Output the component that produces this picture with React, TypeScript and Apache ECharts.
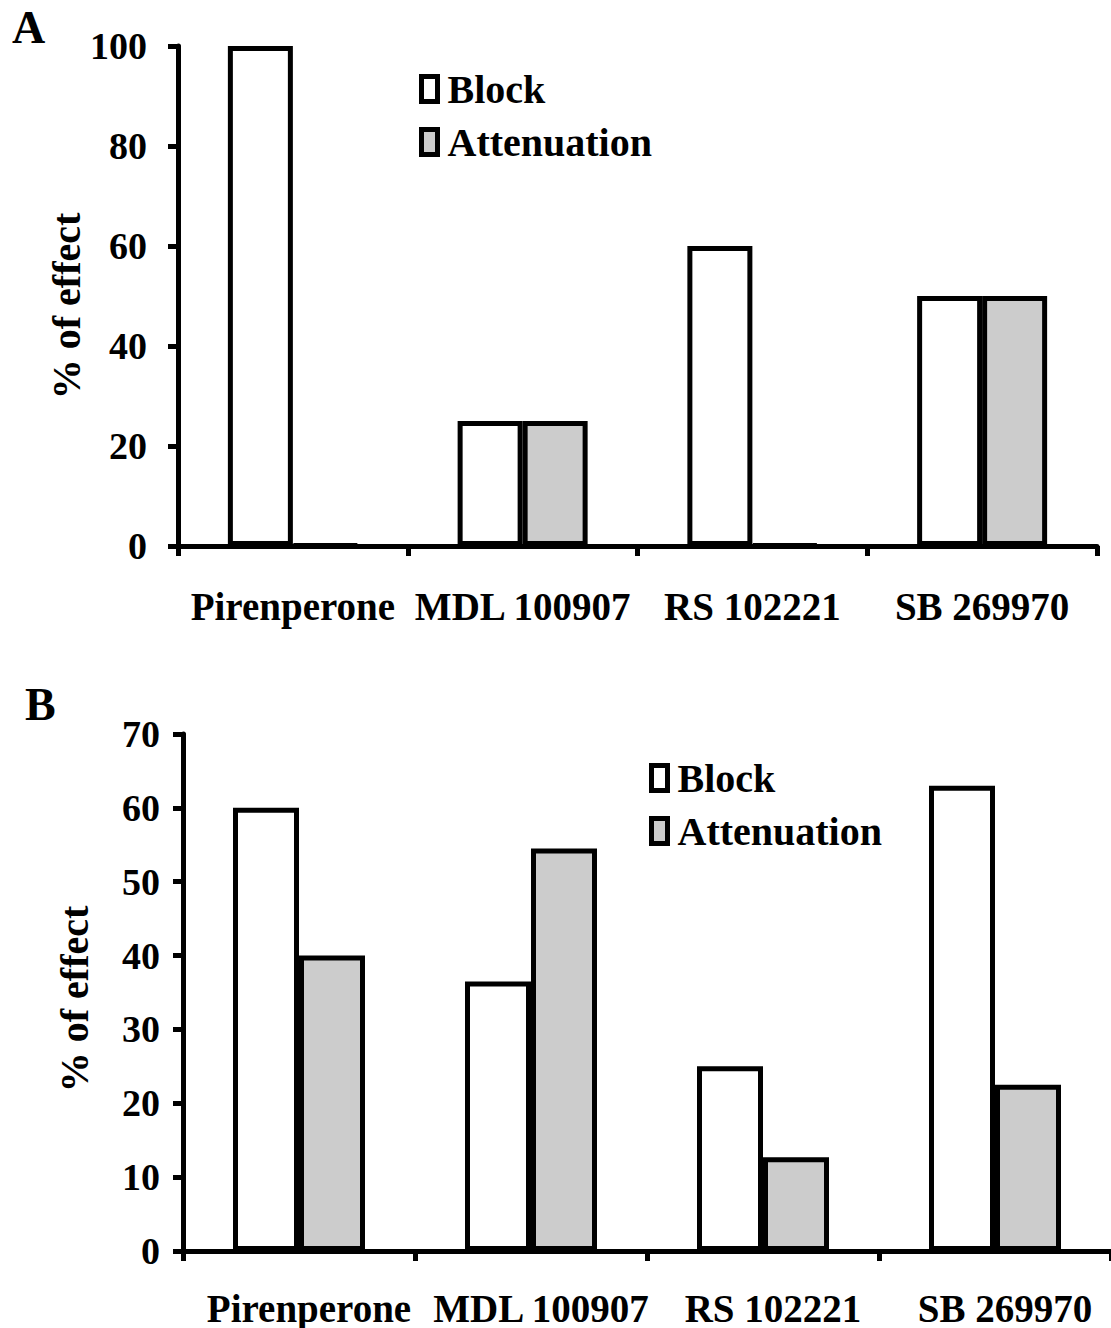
import React, { useEffect, useRef } from "react";
import * as echarts from "echarts";

const categories = ["Pirenperone", "MDL 100907", "RS 102221", "SB 269970"];
const blockA = [100, 25, 60, 50];
const attenuationA = [0, 25, 0, 50];
const blockB = [60, 36.5, 25, 63];
const attenuationB = [40, 54.5, 12.7, 22.5];
const yTicksA = { min: 0, max: 100, interval: 20 };
const yTicksB = { min: 0, max: 70, interval: 10 };

const FONT = "'Liberation Serif', 'Times New Roman', serif";
const BLACK = "#000000";
const GREY = "#cccccc";

export default function App() {
  const ref = useRef<HTMLDivElement>(null);
  useEffect(() => {
    if (!ref.current) return;
    const chart = echarts.init(ref.current, null, { renderer: "svg" });
    const axisLine = { show: true, lineStyle: { color: BLACK, width: 5 } };
    const axisTick = { show: true, length: 10, lineStyle: { color: BLACK, width: 5 } };
    const labelBase = { color: BLACK, fontFamily: FONT, fontWeight: "bold" as const, fontSize: 39, lineHeight: 40 };
    const barStyle = (fill: string) => ({ color: fill, borderColor: BLACK, borderWidth: 5 });
    const legendBase = {
      orient: "vertical" as const,
      padding: 0,
      itemWidth: 16,
      itemHeight: 25,
      itemGap: 9,
      icon: "rect",
      itemStyle: { borderColor: BLACK, borderWidth: 5 },
      textStyle: { color: BLACK, fontFamily: FONT, fontWeight: "bold" as const, fontSize: 40, lineHeight: 44, padding: [0, 0, 0, 5] },
      data: ["Block", "Attenuation"],
      selectedMode: false,
    };
    chart.setOption({
      animation: false,
      backgroundColor: "#ffffff",
      grid: [
        { left: 178, top: 46, width: 919, height: 500 },
        { left: 183, top: 734, width: 928, height: 517 },
      ],
      legend: [
        { ...legendBase, left: 419, top: 67 },
        { ...legendBase, left: 649, top: 756 },
      ],
      xAxis: [
        {
          type: "category", gridIndex: 0, data: categories,
          axisLine, axisTick,
          axisLabel: { ...labelBase, margin: 40, interval: 0 },
        },
        {
          type: "category", gridIndex: 1, data: categories,
          axisLine, axisTick,
          axisLabel: { ...labelBase, margin: 37, interval: 0, padding: [0, 0, 0, 20] },
        },
      ],
      yAxis: [
        {
          type: "value", gridIndex: 0, ...yTicksA,
          axisLine, axisTick, splitLine: { show: false },
          axisLabel: { ...labelBase, fontSize: 38, margin: 31 },
        },
        {
          type: "value", gridIndex: 1, ...yTicksB,
          axisLine, axisTick, splitLine: { show: false },
          axisLabel: { ...labelBase, fontSize: 38, margin: 23 },
        },
      ],
      series: [
        { name: "Block", type: "bar", xAxisIndex: 0, yAxisIndex: 0, data: blockA, barWidth: 65, barGap: "0%", itemStyle: barStyle("#ffffff") },
        { name: "Attenuation", type: "bar", xAxisIndex: 0, yAxisIndex: 0, data: attenuationA, barWidth: 65, barGap: "0%", barMinHeight: 1, itemStyle: barStyle(GREY) },
        { name: "Block", type: "bar", xAxisIndex: 1, yAxisIndex: 1, data: blockB, barWidth: 66, barGap: "0%", itemStyle: barStyle("#ffffff") },
        { name: "Attenuation", type: "bar", xAxisIndex: 1, yAxisIndex: 1, data: attenuationB, barWidth: 66, barGap: "0%", itemStyle: barStyle(GREY) },
      ],
      graphic: [
        { type: "text", left: 12, top: 4, style: { text: "A", fill: BLACK, font: `bold 46px ${FONT}` } },
        { type: "text", left: 25, top: 681, style: { text: "B", fill: BLACK, font: `bold 46px ${FONT}` } },
        {
          type: "text", x: 66, y: 306, rotation: Math.PI / 2,
          style: { text: "% of effect", fill: BLACK, font: `bold 40px ${FONT}`, align: "center", verticalAlign: "middle" },
        },
        {
          type: "text", x: 74, y: 999, rotation: Math.PI / 2,
          style: { text: "% of effect", fill: BLACK, font: `bold 40px ${FONT}`, align: "center", verticalAlign: "middle" },
        },
      ],
    });
    return () => chart.dispose();
  }, []);
  return <div ref={ref} style={{ position: "absolute", left: 0, top: 0, width: 1111, height: 1328 }} />;
}
